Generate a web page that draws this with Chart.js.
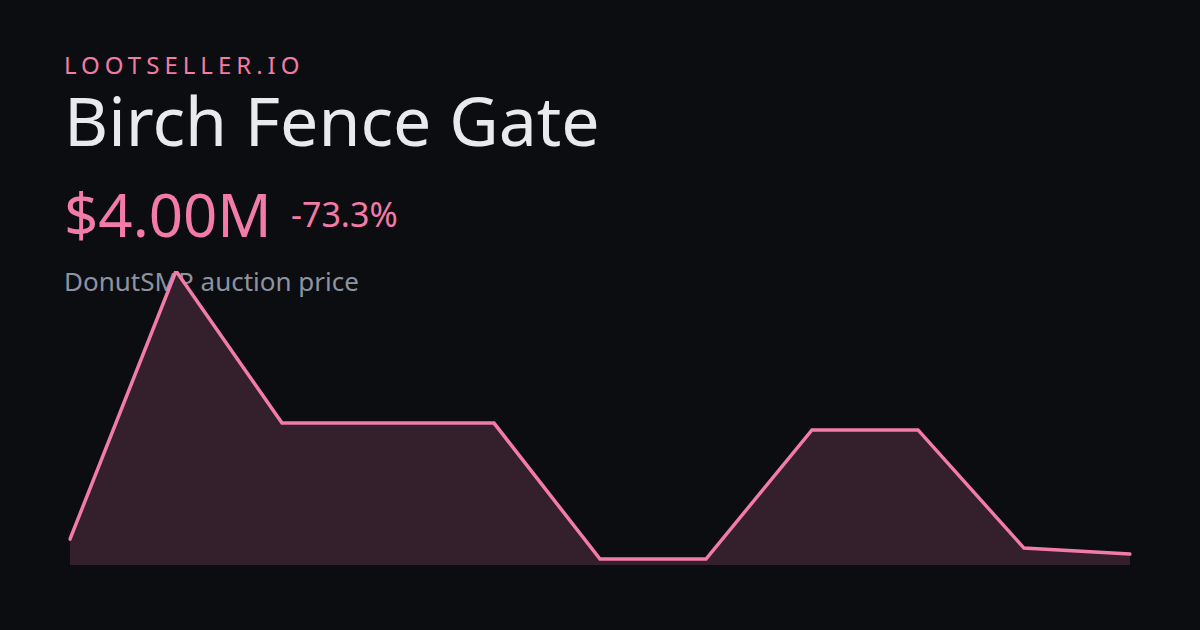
<!DOCTYPE html>
<html lang="en">
<head>
  <meta charset="UTF-8">
  <title>Birch Fence Gate</title>
  <style>
    html, body { margin: 0; padding: 0; }
    body {
      width: 1200px; height: 630px; overflow: hidden;
      background: #0c0d10;
      font-family: "Noto Sans", "Open Sans", sans-serif;
      position: relative;
    }
    .t { position: absolute; left: 64px; line-height: 1; white-space: nowrap; margin: 0; }
    .brand { top: 53px; font-size: 24px; letter-spacing: 5px; color: #f27ba8; }
    .title { top: 86px; font-size: 68px; color: #e9eaee; font-weight: 400; }
    .price { top: 184px; font-size: 60px; color: #f27ba8; }
    .change { position: absolute; left: 291px; top: 197px; font-size: 34px; line-height: 1; color: #f27ba8; }
    .sub { top: 268px; font-size: 26px; color: #8c93a3; }
    .chart { position: absolute; left: 60px; top: 260px; width: 1080px; height: 315px; }
  </style>
</head>
<body>
  <p class="t brand">LOOTSELLER.IO</p>
  <h1 class="t title">Birch Fence Gate</h1>
  <p class="t price">$4.00M</p>
  <span class="change">-73.3%</span>
  <p class="t sub">DonutSMP auction price</p>

  <div class="chart"><canvas id="priceChart"></canvas></div>

  <script src="https://cdn.jsdelivr.net/npm/chart.js"></script>
  <script>
    // price history in millions, oldest first
    const labels = ['1', '2', '3', '4', '5', '6', '7', '8', '9', '10', '11'];
    const prices = [15, 211.5, 100, 100, 100, 0.4, 0.4, 95, 95, 8.4, 4.0];

    const ctx = document.getElementById('priceChart').getContext('2d');
    new Chart(ctx, {
      type: 'line',
      data: {
        labels: labels,
        datasets: [{
          data: prices,
          borderColor: '#f27ba8',
          borderWidth: 3.5,
          borderCapStyle: 'round',
          backgroundColor: '#33202c',
          fill: 'start',
          tension: 0,
          pointRadius: 0
        }]
      },
      options: {
        responsive: true,
        maintainAspectRatio: false,
        animation: false,
        layout: { padding: { left: 10, right: 10, top: 11, bottom: 10 } },
        scales: {
          x: { display: false },
          y: { display: false, min: -4, max: 211.5 }
        },
        plugins: {
          legend: { display: false },
          tooltip: { enabled: false }
        }
      }
    });
  </script>
</body>
</html>
